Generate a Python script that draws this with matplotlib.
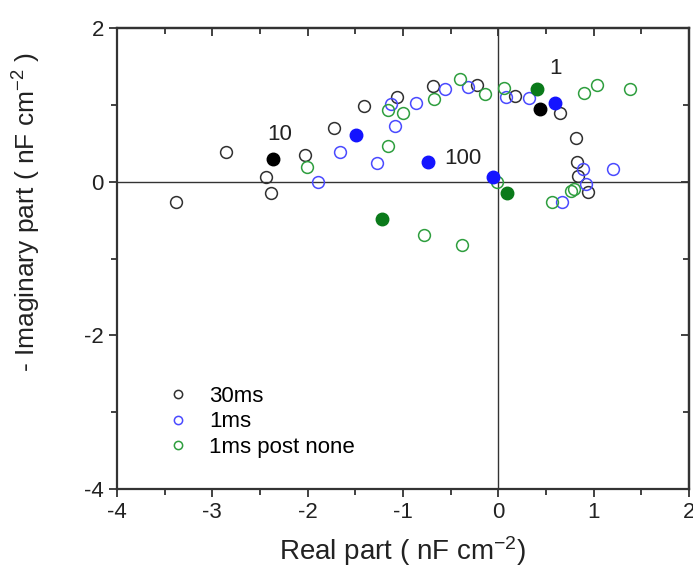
import matplotlib
matplotlib.use("Agg")
import matplotlib.pyplot as plt
from matplotlib.ticker import MultipleLocator, NullFormatter

plt.rcParams['font.family'] = ['Liberation Sans', 'DejaVu Sans']
plt.rcParams['mathtext.fontset'] = 'custom'
plt.rcParams['mathtext.rm'] = 'Liberation Sans'
plt.rcParams['mathtext.it'] = 'Liberation Sans'
plt.rcParams['mathtext.default'] = 'regular'
plt.rcParams['axes.unicode_minus'] = False

# 30ms (open black)
x_30 = [-3.38, -2.86, -2.44, -2.38, -2.03, -1.72, -1.41, -1.06, -0.69, -0.22, 0.17, 0.65, 0.81, 0.82, 0.84, 0.94]
y_30 = [-0.26, 0.39, 0.06, -0.15, 0.35, 0.70, 0.98, 1.10, 1.24, 1.26, 1.12, 0.89, 0.57, 0.26, 0.08, -0.14]
# 1ms (open blue)
x_1 = [-1.89, -1.66, -1.27, -1.13, -1.08, -0.86, -0.56, -0.32, 0.08, 0.32, 0.89, 1.20, 0.92, 0.67]
y_1 = [0.00, 0.39, 0.24, 1.01, 0.73, 1.02, 1.20, 1.23, 1.10, 1.09, 0.16, 0.16, -0.03, -0.26]
# 1ms post none (open green)
x_pn = [-2.01, -1.16, -1.16, -1.00, -0.68, -0.40, -0.14, 0.06, 0.90, 1.04, 1.38, -0.01, 0.76, 0.79, 0.56, -0.78, -0.38]
y_pn = [0.19, 0.47, 0.93, 0.90, 1.08, 1.33, 1.14, 1.22, 1.15, 1.26, 1.20, 0.00, -0.12, -0.10, -0.26, -0.70, -0.83]

# highlighted frequency points (filled)
x_30f = [-2.36, 0.44]
y_30f = [0.29, 0.94]
x_1f = [-1.49, -0.74, -0.06, 0.59]
y_1f = [0.61, 0.25, 0.06, 1.02]
x_pnf = [-1.22, 0.09, 0.41]
y_pnf = [-0.48, -0.15, 1.21]

labels = ["10", "1", "100"]
label_x = [-2.29, 0.60, -0.37]
label_y = [0.62, 1.47, 0.30]

fig = plt.figure(figsize=(6.93, 5.78), dpi=100)
ax = fig.add_axes([117/693, 1-489/578, (689-117)/693, (489-28)/578])

ax.axhline(0, color='#333333', lw=1.0, zorder=1)
ax.axvline(0, color='#333333', lw=1.0, zorder=1)

ms = 8.5
ax.plot(x_30, y_30, 'o', ms=ms, mfc='none', mec='#303030', mew=1.1, ls='none', label='30ms', zorder=3)
ax.plot(x_1, y_1, 'o', ms=ms, mfc='none', mec='#4a4aff', mew=1.1, ls='none', label='1ms', zorder=3)
ax.plot(x_pn, y_pn, 'o', ms=ms, mfc='none', mec='#2e9e3e', mew=1.1, ls='none', label='1ms post none', zorder=3)

ax.plot(x_30f, y_30f, 'o', ms=9, mfc='black', mec='black', ls='none', zorder=4)
ax.plot(x_1f, y_1f, 'o', ms=9, mfc='#1414ff', mec='#1414ff', ls='none', zorder=4)
ax.plot(x_pnf, y_pnf, 'o', ms=9, mfc='#0a7a1a', mec='#0a7a1a', ls='none', zorder=4)

for t, xx, yy in zip(labels, label_x, label_y):
    ax.text(xx, yy, t, fontsize=16, color='#222222', ha='center', va='center')

ax.set_xlim(-4, 2)
ax.set_ylim(-4, 2)
ax.xaxis.set_major_locator(MultipleLocator(1))
ax.xaxis.set_minor_locator(MultipleLocator(0.5))
ax.yaxis.set_major_locator(MultipleLocator(2))
ax.yaxis.set_minor_locator(MultipleLocator(1))
ax.tick_params(which='both', direction='out', labelsize=16, colors='#333333', width=1.3)
ax.tick_params(which='major', length=6)
ax.tick_params(which='minor', length=4)
for lab in ax.get_xticklabels() + ax.get_yticklabels():
    lab.set_color('#222222')

# inward ticks on top and right
top = ax.secondary_xaxis('top')
top.xaxis.set_major_locator(MultipleLocator(1))
top.xaxis.set_minor_locator(MultipleLocator(0.5))
top.xaxis.set_major_formatter(NullFormatter())
top.tick_params(which='both', direction='in', colors='#333333', width=1.3)
top.tick_params(which='major', length=6)
top.tick_params(which='minor', length=4)
right = ax.secondary_yaxis('right')
right.yaxis.set_major_locator(MultipleLocator(2))
right.yaxis.set_minor_locator(MultipleLocator(1))
right.yaxis.set_major_formatter(NullFormatter())
right.tick_params(which='both', direction='in', colors='#333333', width=1.3)
right.tick_params(which='major', length=6)
right.tick_params(which='minor', length=4)

for s in list(ax.spines.values()) + [top.spines['top'], right.spines['right']]:
    s.set_color('#333333')
    s.set_linewidth(1.6)

ax.set_xlabel('Real part ( nF cm$^{-2}$)', fontsize=20, color='#222222', labelpad=8)
ax.set_ylabel('- Imaginary part ( nF cm$^{-2}$ )', fontsize=19, color='#222222')
ax.yaxis.set_label_coords(-0.13, 0.6)

leg = ax.legend(loc='upper left', bbox_to_anchor=(0.068, 0.243), frameon=False, fontsize=16,
                markerscale=0.7, handletextpad=0.8, labelspacing=0.2, handlelength=1.2,
                borderaxespad=0)

fig.savefig('out.png', dpi=100)
